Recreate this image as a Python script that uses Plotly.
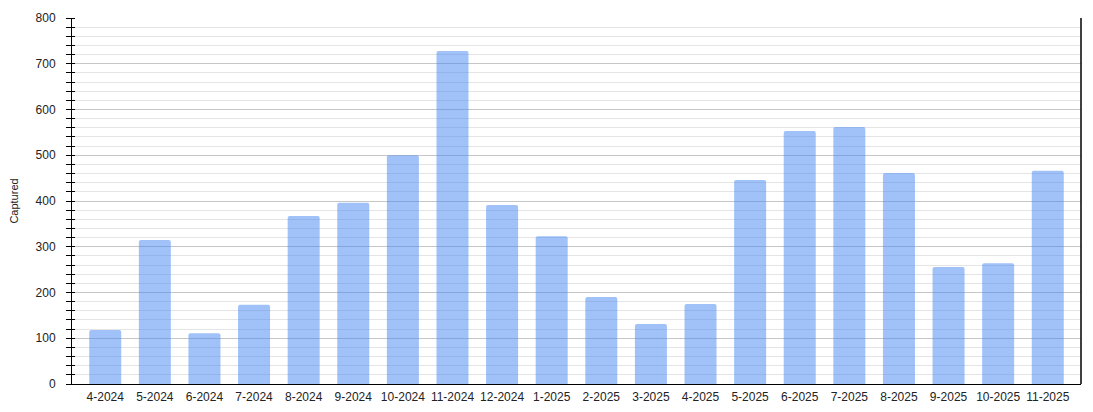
import plotly.graph_objects as go

months = ["4-2024", "5-2024", "6-2024", "7-2024", "8-2024", "9-2024", "10-2024",
          "11-2024", "12-2024", "1-2025", "2-2025", "3-2025", "4-2025", "5-2025",
          "6-2025", "7-2025", "8-2025", "9-2025", "10-2025", "11-2025"]
captured = [118, 315, 111, 173, 367, 396, 500, 728, 391, 323, 190, 131, 175, 446,
            553, 562, 461, 256, 264, 466]
y_ticks = [0, 100, 200, 300, 400, 500, 600, 700, 800]

fig = go.Figure()
fig.add_trace(go.Bar(
    x=months, y=captured,
    marker=dict(color="rgba(66,133,244,0.5)", line=dict(width=0)),
    hoverinfo="x+y",
))
# invisible helper trace so the overlay axis (inner half of tick marks) is drawn
fig.add_trace(go.Scatter(x=[months[0]], y=[0], yaxis="y2", mode="lines",
                         line=dict(width=0), showlegend=False, hoverinfo="skip"))

font = "Liberation Sans, Arial, sans-serif"
fig.update_layout(
    width=1085, height=404,
    margin=dict(l=64, r=12, t=10, b=28, autoexpand=False),
    paper_bgcolor="white", plot_bgcolor="white",
    showlegend=False,
    bargap=0.355,
    barcornerradius=2,
    font=dict(family=font, size=12, color="#222222"),
    xaxis=dict(
        range=[-0.67, len(months) - 1 + 0.67], automargin=False,
        showline=True, linecolor="black", linewidth=1,
        ticks="", showgrid=False, ticklabelstandoff=2,
        tickfont=dict(size=12, color="#222222"),
    ),
    yaxis=dict(
        range=[0, 800], tickvals=y_ticks, automargin=False,
        showline=True, linecolor="black", linewidth=1,
        showgrid=True, gridcolor="#c6c6c6", gridwidth=1,
        ticks="", ticklabelstandoff=13,
        tickfont=dict(size=12, color="#222222"),
        zeroline=False,
        title=dict(text="Captured", font=dict(size=11, color="#222222"), standoff=18),
        minor=dict(dtick=20, showgrid=True, gridcolor="#e4e4e4", gridwidth=1,
                   ticks="outside", ticklen=5, tickcolor="black", tickwidth=1),
    ),
    yaxis2=dict(
        range=[0, 800], overlaying="y", side="left", anchor="x", automargin=False,
        showgrid=False, showticklabels=False, showline=False, zeroline=False,
        tickvals=y_ticks, ticks="",
        minor=dict(dtick=20, showgrid=False, ticks="inside", ticklen=3,
                   tickcolor="black", tickwidth=1),
    ),
    shapes=[dict(type="line", xref="paper", yref="paper", x0=1, x1=1, y0=0, y1=1,
                 line=dict(color="black", width=1.5), layer="above")],
)
fig.write_html("out.html")
